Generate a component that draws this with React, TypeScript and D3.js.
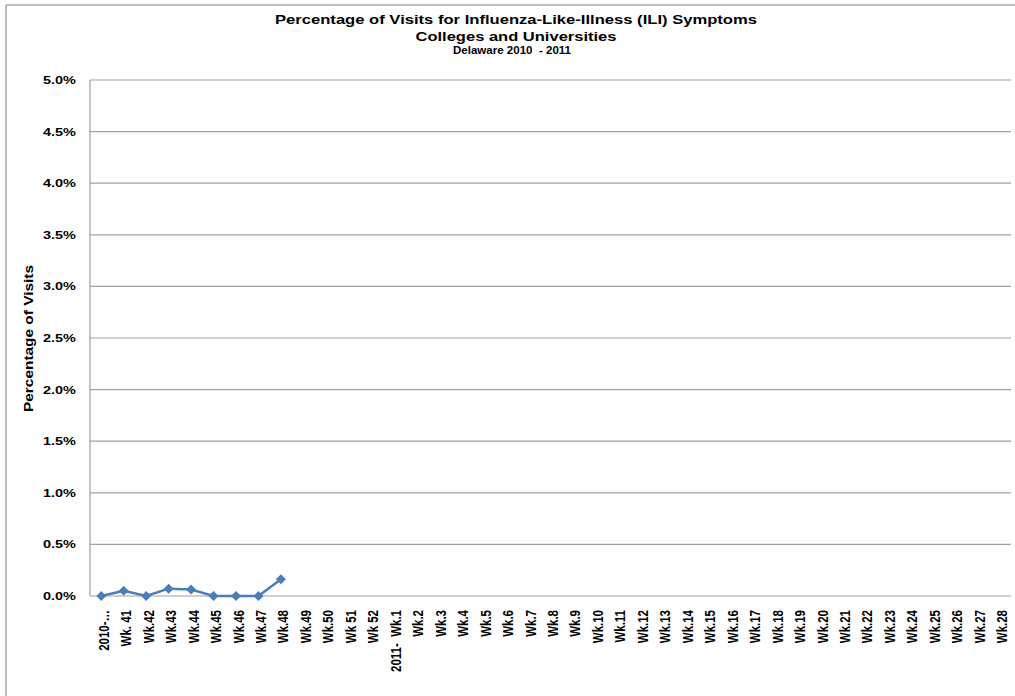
import React from "react";
import * as d3 from "d3";

const categories = [
  "2010-…", "Wk. 41", "Wk.42", "Wk.43", "Wk.44", "Wk.45", "Wk.46", "Wk.47", "Wk.48",
  "Wk.49", "Wk.50", "Wk 51", "Wk 52", "2011-  Wk.1", "Wk.2", "Wk.3", "Wk.4", "Wk.5",
  "Wk.6", "Wk.7", "Wk.8", "Wk.9", "Wk.10", "Wk.11", "Wk.12", "Wk.13", "Wk.14", "Wk.15",
  "Wk.16", "Wk.17", "Wk.18", "Wk.19", "Wk.20", "Wk.21", "Wk.22", "Wk.23", "Wk.24",
  "Wk.25", "Wk.26", "Wk.27", "Wk.28",
];

const values: (number | null)[] = [
  0.0, 0.051, 0.0, 0.071, 0.062, 0.0, 0.0, 0.0, 0.162,
];

const yTicks = [0, 0.5, 1.0, 1.5, 2.0, 2.5, 3.0, 3.5, 4.0, 4.5, 5.0];

const titleLines = [
  "Percentage of Visits for Influenza-Like-Illness (ILI) Symptoms",
  "Colleges and Universities",
];
const subtitle = "Delaware 2010  - 2011";
const yAxisTitle = "Percentage of Visits";

export default function App() {
  const W = 1015, H = 696;
  const left = 90, right = 1011, top = 80, bottom = 596;
  const x = d3.scaleBand<string>().domain(categories).range([left, right]).padding(0);
  const y = d3.scaleLinear().domain([0, 5]).range([bottom, top]);
  const cx = (c: string) => (x(c) as number) + x.bandwidth() / 2;

  const pts = values
    .map((v, i) => ({ v, c: categories[i] }))
    .filter((d) => d.v !== null) as { v: number; c: string }[];
  const line = d3
    .line<{ v: number; c: string }>()
    .x((d) => cx(d.c))
    .y((d) => y(d.v));
  const font = "'Liberation Sans', Arial, sans-serif";
  const color = "#4A7EBB";
  const r = 5;
  const grid = "#a0a0a0";

  return (
    <svg width={W} height={H} style={{ position: "absolute", left: 0, top: 0 }} fontFamily={font}>
      <rect x={0} y={0} width={W} height={H} fill="#fff" />
      <line x1={6} y1={5} x2={W} y2={5} stroke="#a6a6a6" strokeWidth={1.5} />
      <line x1={6} y1={5} x2={6} y2={H} stroke="#a6a6a6" strokeWidth={1.5} />
      <text x={516} y={24} textAnchor="middle" fontSize={13} fontWeight="bold"
        textLength={482} lengthAdjust="spacingAndGlyphs">{titleLines[0]}</text>
      <text x={516} y={41} textAnchor="middle" fontSize={13} fontWeight="bold"
        textLength={201} lengthAdjust="spacingAndGlyphs">{titleLines[1]}</text>
      <text x={512} y={54} textAnchor="middle" fontSize={11} fontWeight="bold"
        style={{ whiteSpace: "pre" }}
        textLength={118} lengthAdjust="spacingAndGlyphs">{subtitle}</text>
      {yTicks.map((t) => (
        <g key={t}>
          <line x1={left} x2={right} y1={y(t)} y2={y(t)} stroke={grid} strokeWidth={1.2} />
          <text x={76} y={y(t) + 4} textAnchor="end" fontSize={11.5} fontWeight="bold"
            textLength={33} lengthAdjust="spacingAndGlyphs">
            {t.toFixed(1) + "%"}
          </text>
        </g>
      ))}
      <line x1={left} x2={left} y1={top} y2={bottom} stroke={grid} strokeWidth={1.2} />
      <text
        transform={`translate(33,${(265 + 412) / 2}) rotate(-90)`}
        textAnchor="middle"
        fontSize={12}
        fontWeight="bold"
        textLength={147}
        lengthAdjust="spacingAndGlyphs"
      >
        {yAxisTitle}
      </text>
      {categories.map((c) => (
        <text
          key={c}
          transform={`translate(${cx(c) + 7.5},${bottom + 14}) scale(1.25,1) rotate(-90)`}
          textAnchor="end"
          fontSize={11.5}
          fontWeight="bold"
          style={{ whiteSpace: "pre" }}
        >
          {c}
        </text>
      ))}
      <path d={line(pts) || ""} fill="none" stroke={color} strokeWidth={2.5} />
      {pts.map((d) => (
        <path
          key={d.c}
          d={`M${cx(d.c)},${y(d.v) - r}L${cx(d.c) + r},${y(d.v)}L${cx(d.c)},${y(d.v) + r}L${cx(d.c) - r},${y(d.v)}Z`}
          fill={color}
        />
      ))}
    </svg>
  );
}
